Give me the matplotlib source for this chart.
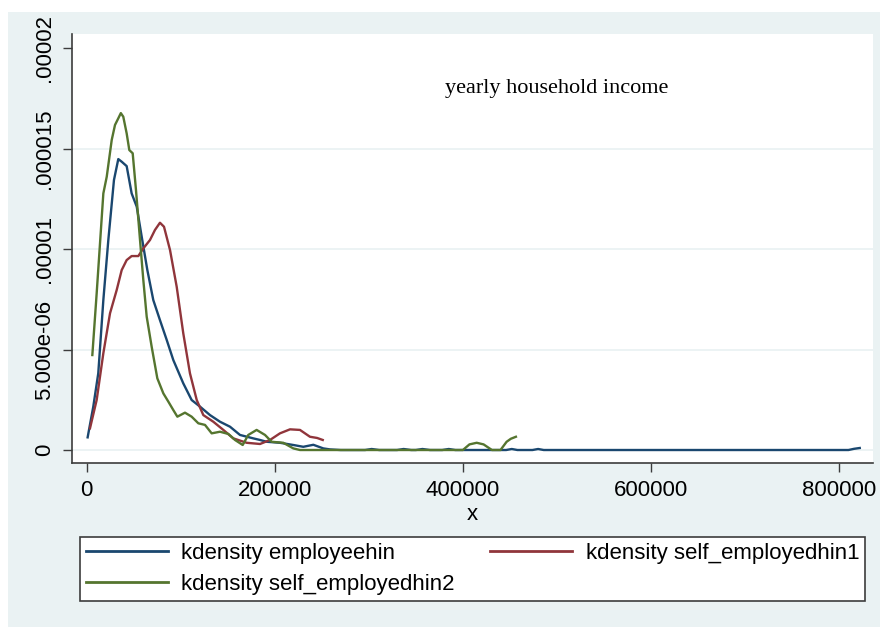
import matplotlib
matplotlib.use("Agg")
import matplotlib.pyplot as plt
from matplotlib.patches import Rectangle

# Kernel density estimates of yearly household income
emp_x = [1000, 7000, 12300, 17700, 23000, 29000, 33600, 37200, 42500, 47800,
         53200, 58500, 64500, 70800, 77900, 85100, 92100, 102700, 111600, 120500,
         131100, 141700, 152400, 163000, 177100, 184300, 191400, 205500, 219700,
         230300, 241000, 251600, 258700, 270000, 296000, 303000, 311000, 330000,
         337000, 345000, 350000, 357000, 365000, 378000, 385000, 392000, 446000,
         452000, 458000, 474000, 480000, 486000, 500000, 810000, 816000, 822000]
emp_y = [6.3e-7, 2.16e-6, 3.82e-6, 7.47e-6, 1.046e-5, 1.345e-5, 1.449e-5, 1.436e-5, 1.414e-5, 1.278e-5,
         1.212e-5, 1.062e-5, 8.96e-6, 7.47e-6, 6.47e-6, 5.48e-6, 4.48e-6, 3.32e-6, 2.49e-6, 2.16e-6,
         1.74e-6, 1.41e-6, 1.16e-6, 7.5e-7, 5.8e-7, 5.0e-7, 4.1e-7, 3.6e-7, 2.5e-7,
         1.6e-7, 2.6e-7, 8e-8, 3e-8, 0.0, 0.0, 5e-8, 0.0, 0.0,
         5e-8, 0.0, 0.0, 5e-8, 0.0, 0.0, 5e-8, 0.0, 0.0,
         5e-8, 0.0, 0.0, 5e-8, 0.0, 0.0, 0.0, 6e-8, 1e-7]

se1_x = [3500, 10600, 17700, 24800, 31900, 37200, 42500, 47800, 54900, 60200,
         67300, 72600, 77900, 82200, 88600, 95700, 102700, 109800, 117000, 124000,
         134600, 145300, 155900, 170100, 184300, 194900, 205500, 216200, 226800, 237400,
         245000, 251000]
se1_y = [1.08e-6, 2.49e-6, 4.82e-6, 6.81e-6, 7.97e-6, 8.96e-6, 9.46e-6, 9.66e-6, 9.66e-6, 1.004e-5,
         1.046e-5, 1.096e-5, 1.132e-5, 1.112e-5, 9.96e-6, 8.13e-6, 5.81e-6, 3.82e-6, 2.49e-6, 1.74e-6,
         1.41e-6, 1.0e-6, 5.8e-7, 3.6e-7, 3.0e-7, 5.0e-7, 8.3e-7, 1.03e-6, 1.0e-6, 6.6e-7,
         6.0e-7, 5.0e-7]

se2_x = [6000, 10600, 17700, 21300, 26600, 30100, 33600, 36300, 38900, 42500,
         45300, 48900, 52400, 56700, 60200, 63800, 69100, 75100, 81500, 86800,
         92100, 96400, 104500, 111600, 118700, 125800, 132900, 141700, 150600, 157700,
         165900, 171800, 180700, 189600, 196700, 209000, 219700, 226800, 400000, 407000,
         414700, 422000, 430900, 440000, 446500, 451000, 456400]
se2_y = [4.73e-6, 7.8e-6, 1.278e-5, 1.361e-5, 1.544e-5, 1.619e-5, 1.652e-5, 1.678e-5, 1.66e-5, 1.577e-5,
         1.494e-5, 1.478e-5, 1.295e-5, 1.046e-5, 8.47e-6, 6.64e-6, 5.14e-6, 3.57e-6, 2.82e-6, 2.41e-6,
         1.99e-6, 1.66e-6, 1.86e-6, 1.66e-6, 1.33e-6, 1.25e-6, 8.3e-7, 9.1e-7, 8.0e-7, 5.0e-7,
         2.5e-7, 7.5e-7, 1.0e-6, 7.5e-7, 4.1e-7, 3.6e-7, 8e-8, 0.0, 0.0, 2.8e-7,
         3.6e-7, 2.8e-7, 0.0, 0.0, 4.1e-7, 5.6e-7, 6.6e-7]

series_labels = ["kdensity employeehin", "kdensity self_employedhin1", "kdensity self_employedhin2"]
series_colors = ["#1A476F", "#90353B", "#55752F"]

x_ticks = [0, 200000, 400000, 600000, 800000]
x_tick_labels = ["0", "200000", "400000", "600000", "800000"]
y_ticks = [0, 5e-6, 1e-5, 1.5e-5, 2e-5]
y_tick_labels = ["0", "5.000e-06", ".00001", ".000015", ".00002"]

title_text = "yearly household income"
x_label = "x"

W, H = 880, 627
BG = "#EAF2F3"
AXC = "#3C3C3C"

plt.rcParams["font.family"] = ["Liberation Sans", "DejaVu Sans"]

fig = plt.figure(figsize=(W / 100, H / 100), dpi=100, facecolor="white")
fig.patches.append(Rectangle((8 / W, 0), (W - 8) / W, (H - 12) / H,
                             transform=fig.transFigure, facecolor=BG,
                             edgecolor="none", zorder=-10))

ax = fig.add_axes([72 / W, 1 - 463 / H, (873 - 72) / W, (463 - 34) / H])
ax.set_facecolor("white")

lines = []
for xs, ys, c, lab in zip([emp_x, se1_x, se2_x], [emp_y, se1_y, se2_y],
                          series_colors, series_labels):
    ln, = ax.plot(xs, ys, color=c, lw=1.7, label=lab, solid_joinstyle="round")
    lines.append(ln)

ax.set_xlim(-15630, 836100)
ax.set_ylim(-6.47e-7, 2.072e-5)

ax.set_xticks(x_ticks)
ax.set_xticklabels(x_tick_labels, fontsize=16)
ax.set_yticks(y_ticks)
ax.set_yticklabels(y_tick_labels, fontsize=16, rotation=90, va="center")

ax.tick_params(axis="both", direction="out", length=6.5, width=1.0,
               color=AXC, pad=6)

ax.grid(axis="y", color=BG, lw=1.3)
ax.yaxis.get_gridlines()[-1].set_visible(False)
ax.set_axisbelow(True)

for s in ["top", "right"]:
    ax.spines[s].set_visible(False)
for s in ["left", "bottom"]:
    ax.spines[s].set_color(AXC)
    ax.spines[s].set_linewidth(1.2)

fig.text(557 / W, 1 - 88 / H, title_text, fontsize=16,
         family="Liberation Serif", ha="center", va="center")
ax.set_xlabel(x_label, fontsize=16, labelpad=2)

# legend filled column by column: first column holds series 1 and 3
order = [0, 2, 1]
leg = fig.legend([lines[i] for i in order], [series_labels[i] for i in order],
                 ncol=2, mode="expand", loc="center",
                 bbox_to_anchor=(80 / W, 1 - 604 / H, 785 / W, 70 / H),
                 fontsize=16, frameon=True, fancybox=False, framealpha=1,
                 handlelength=3.7, handletextpad=0.6, labelspacing=0.45,
                 borderpad=0.25, borderaxespad=0)
leg.get_frame().set_edgecolor(AXC)
leg.get_frame().set_linewidth(1.2)
for h in leg.get_lines():
    h.set_linewidth(2.0)

fig.savefig("out.png", dpi=100, facecolor="white")
